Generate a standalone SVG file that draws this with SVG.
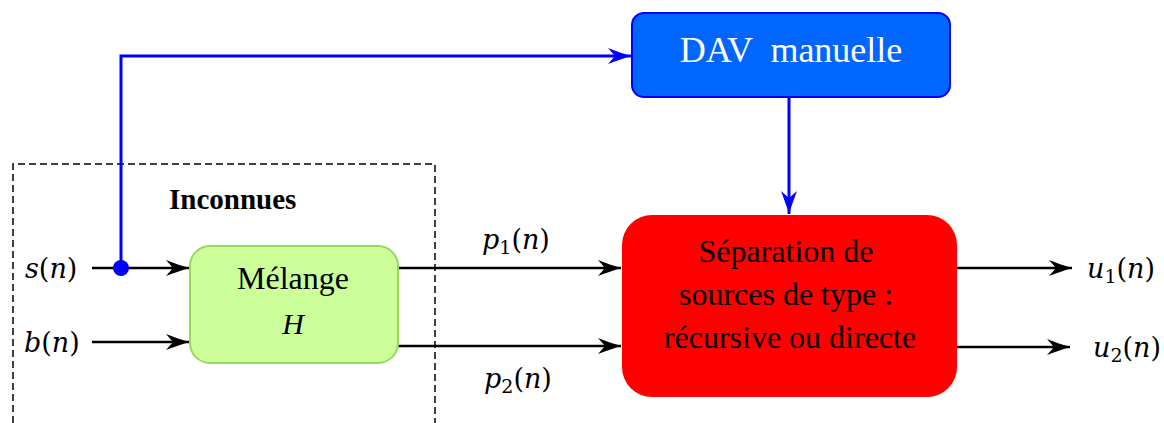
<svg xmlns="http://www.w3.org/2000/svg" width="1164" height="423" viewBox="0 0 1164 423">
  <style>
    .serif { font-family: "Liberation Serif", "Times New Roman", serif; }
    .math { font-family: "DejaVu Serif", serif; font-size: 27px; fill: #000; }
    .it { font-style: italic; }
    .sub { font-size: 19px; }
    .wire { fill: none; stroke: #000; stroke-width: 2.5; }
    .ctrl { fill: none; stroke: #0000ff; stroke-width: 3; }
  </style>
  <defs>
    <marker id="arrowBlack" markerUnits="userSpaceOnUse" markerWidth="26" markerHeight="20" viewBox="-24 -10 26 20" refX="0" refY="0" orient="auto">
      <path d="M0,0 C-7,-2 -15,-5 -23,-8 L-16,0 L-23,8 C-15,5 -7,2 0,0 Z" fill="#000"/>
    </marker>
    <marker id="arrowBlue" markerUnits="userSpaceOnUse" markerWidth="26" markerHeight="20" viewBox="-24 -10 26 20" refX="0" refY="0" orient="auto">
      <path d="M0,0 C-7,-2 -15,-5 -23,-8 L-16,0 L-23,8 C-15,5 -7,2 0,0 Z" fill="#0000ff"/>
    </marker>
  </defs>

  <!-- boundary of the unknown part of the system -->
  <g id="unknown-region">
    <path d="M13,423 L13,164 L435,164 L435,423" fill="none" stroke="#000" stroke-width="1.5" stroke-dasharray="7 4"/>
    <text class="serif" x="169" y="209" font-size="29" font-weight="bold">Inconnues</text>
  </g>

  <!-- connectors -->
  <g id="connectors">
    <line class="wire" x1="92" y1="268" x2="189" y2="268" marker-end="url(#arrowBlack)"/>
    <line class="wire" x1="92" y1="342" x2="189" y2="342" marker-end="url(#arrowBlack)"/>
    <line class="wire" x1="398" y1="268" x2="621" y2="268" marker-end="url(#arrowBlack)"/>
    <line class="wire" x1="398" y1="346" x2="621" y2="346" marker-end="url(#arrowBlack)"/>
    <line class="wire" x1="957" y1="268" x2="1072" y2="268" marker-end="url(#arrowBlack)"/>
    <line class="wire" x1="957" y1="347" x2="1070" y2="347" marker-end="url(#arrowBlack)"/>
    <path class="ctrl" d="M121,268 L121,56 L631,56" stroke-linejoin="miter" marker-end="url(#arrowBlue)"/>
    <line class="ctrl" x1="789" y1="97" x2="789" y2="214" marker-end="url(#arrowBlue)"/>
    <circle cx="121" cy="268" r="8" fill="#0000ff"/>
  </g>

  <!-- signal labels -->
  <g id="labels">
    <text class="math" x="25" y="278"><tspan class="it">s</tspan>(<tspan class="it">n</tspan>)</text>
    <text class="math" x="24" y="352"><tspan class="it">b</tspan>(<tspan class="it">n</tspan>)</text>
    <text class="math" x="482" y="249"><tspan class="it">p</tspan><tspan class="sub" dy="5">1</tspan><tspan dy="-5">(</tspan><tspan class="it">n</tspan>)</text>
    <text class="math" x="484" y="388"><tspan class="it">p</tspan><tspan class="sub" dy="5">2</tspan><tspan dy="-5">(</tspan><tspan class="it">n</tspan>)</text>
    <text class="math" x="1087" y="278"><tspan class="it">u</tspan><tspan class="sub" dy="5">1</tspan><tspan dy="-5">(</tspan><tspan class="it">n</tspan>)</text>
    <text class="math" x="1093" y="357"><tspan class="it">u</tspan><tspan class="sub" dy="5">2</tspan><tspan dy="-5">(</tspan><tspan class="it">n</tspan>)</text>
  </g>

  <!-- mixing block -->
  <g id="melange">
    <rect x="190" y="246" width="208" height="117" rx="20" fill="#ccff99" stroke="#99d95a" stroke-width="2"/>
    <text class="serif" x="293" y="289" font-size="32" text-anchor="middle">Mélange</text>
    <text class="serif" x="293" y="334" font-size="30" font-style="italic" text-anchor="middle">H</text>
  </g>

  <!-- manual voice activity detection -->
  <g id="dav">
    <rect x="632" y="13" width="318" height="84" rx="12" fill="#0066ff" stroke="#0000ff" stroke-width="2"/>
    <text class="serif" x="791" y="62" font-size="36" fill="#fff" text-anchor="middle" xml:space="preserve">DAV  manuelle</text>
  </g>

  <!-- source separation block -->
  <g id="separation">
    <rect x="622" y="215" width="335" height="182" rx="30" fill="#ff0000"/>
    <text class="serif" font-size="32" text-anchor="middle">
      <tspan x="790" y="262">Séparation de</tspan>
      <tspan x="790" y="305">sources de type :</tspan>
      <tspan x="790" y="348">récursive ou directe</tspan>
    </text>
  </g>
</svg>
